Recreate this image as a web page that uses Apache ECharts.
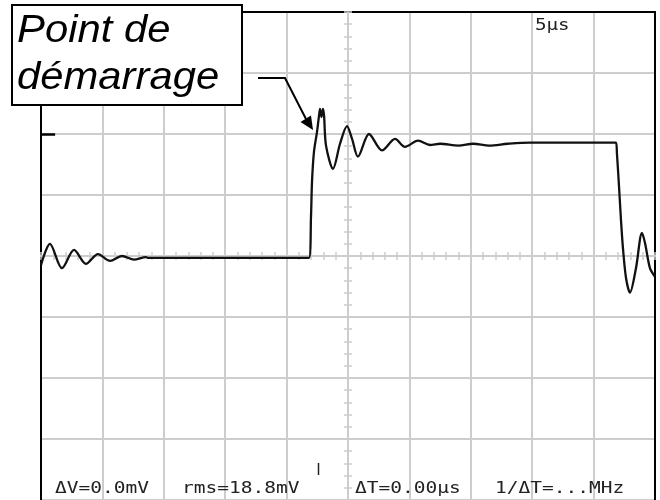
<!DOCTYPE html>
<html>
<head>
<meta charset="utf-8">
<script src="https://cdn.jsdelivr.net/npm/echarts@6/dist/echarts.min.js"></script>
<style>
  html, body { margin: 0; padding: 0; background: #fff; }
  #scope { width: 660px; height: 500px; }
</style>
</head>
<body>
<div id="scope"></div>
<script>
// trace: time in µs (0 = centre of screen, 5 µs/div), level in divisions
var timeUs = [-25, -24.27, -23.29, -22.31, -21.34, -20.36, -19.38, -18.40, -17.43, -16.45, -16.29,
    -3.18, -3.01, -2.93, -2.77, -2.52, -2.36, -2.28, -2.16, -2.04, -1.95, -1.79, -1.22, -0.65, -0.08,
    0.33, 0.81, 1.71, 2.77, 3.83, 4.64, 5.70, 6.68, 7.5, 9.0, 10.2, 11.5, 13.0, 14.8,
    21.82, 21.90, 22.07, 22.23, 22.39, 22.64, 22.96, 23.45, 23.94, 24.19, 24.59, 25];
var levelDiv = [-0.15, 0.20, -0.20, 0.10, -0.13, 0.03, -0.08, 0.0, -0.06, -0.02, -0.03,
    -0.03, 0.67, 1.22, 1.71, 2.04, 2.30, 2.41, 2.28, 2.41, 2.30, 1.81, 1.43, 1.84, 2.13,
    1.92, 1.63, 2.00, 1.73, 1.92, 1.79, 1.89, 1.82, 1.84, 1.81, 1.84, 1.81, 1.84, 1.86,
    1.86, 1.68, 1.14, 0.59, 0.13, -0.36, -0.60, -0.20, 0.38, 0.21, -0.20, -0.34];

var readouts = ['ΔV=0.0mV', 'rms=18.8mV', 'ΔT=0.00µs', '1/ΔT=...MHz'];
var readoutX = [55, 182, 355, 495];
var timebase = '5µs';
var calloutLines = ['Point de', 'démarrage'];

var trace = timeUs.map(function (t, i) { return [t, levelDiv[i]]; });

var gridGray = '#cdcdcd';
var scopeFont = '16px "DejaVu Sans Mono"';

function centreX(inside) {
    return {
        type: 'value', min: -25, max: 25, interval: 5, position: 'bottom',
        axisLine: { show: true, onZero: true, lineStyle: { color: gridGray, width: 2 } },
        axisTick: { show: true, inside: inside, length: 4, lineStyle: { color: gridGray, width: 1.5 } },
        minorTick: { show: true, splitNumber: 5, length: 4, lineStyle: { color: gridGray, width: 1.5 } },
        axisLabel: { show: false },
        splitLine: { show: !inside, lineStyle: { color: gridGray, width: 2 } }
    };
}
function centreY(inside) {
    return {
        type: 'value', min: -4, max: 4, interval: 1, position: 'left',
        axisLine: { show: true, onZero: true, lineStyle: { color: gridGray, width: 2 } },
        axisTick: { show: true, inside: inside, length: 4, lineStyle: { color: gridGray, width: 1.5 } },
        minorTick: { show: true, splitNumber: 5, length: 4, lineStyle: { color: gridGray, width: 1.5 } },
        axisLabel: { show: false },
        splitLine: { show: !inside, lineStyle: { color: gridGray, width: 2 } }
    };
}
function frameAxis(pos, min, max) {
    return {
        type: 'value', min: min, max: max, position: pos,
        axisLine: { show: true, onZero: false, lineStyle: { color: '#000', width: 2 } },
        axisTick: { show: false }, axisLabel: { show: false }, splitLine: { show: false }
    };
}

var graphics = [];
readouts.forEach(function (txt, i) {
    graphics.push({
        type: 'text', x: readoutX[i], y: 489, scaleX: 1.22, z: 100,
        style: { text: txt, font: scopeFont, fill: '#222', textAlign: 'left', textVerticalAlign: 'middle' }
    });
});
graphics.push({
    type: 'text', x: 535, y: 26, scaleX: 1.2, z: 100,
    style: { text: timebase, font: scopeFont, fill: '#222', textAlign: 'left', textVerticalAlign: 'middle' }
});
// cursor mark near the bottom
graphics.push({ type: 'line', z: 100, shape: { x1: 318.5, y1: 463, x2: 318.5, y2: 475 }, style: { stroke: '#222', lineWidth: 1.5 } });

// callout box and arrow
graphics.push({ type: 'rect', z: 100, shape: { x: 12, y: 5, width: 230, height: 100 }, style: { fill: '#fff', stroke: '#000', lineWidth: 2 } });
calloutLines.forEach(function (txt, i) {
    graphics.push({
        type: 'text', x: 17, y: 31 + i * 47, scaleX: 1.1, z: 101,
        style: { text: txt, font: 'italic 38px "Liberation Sans"', fill: '#000', textAlign: 'left', textVerticalAlign: 'middle' }
    });
});
graphics.push({ type: 'polyline', z: 100, shape: { points: [[258, 78], [285, 78], [306, 119]] }, style: { stroke: '#000', lineWidth: 2, fill: null } });
graphics.push({ type: 'polygon', z: 100, shape: { points: [[313, 130], [300.5, 122], [311, 115.5]] }, style: { fill: '#000' } });

var chart = echarts.init(document.getElementById('scope'));
chart.setOption({
    backgroundColor: '#fff',
    animation: false,
    grid: { left: 41, right: 5, top: 12, bottom: -4, show: false },
    xAxis: [centreX(false), centreX(true), frameAxis('top', -25, 25)],
    yAxis: [centreY(false), centreY(true), frameAxis('left', -4, 4), frameAxis('right', -4, 4)],
    series: [{
        // centre cross of the graticule
        type: 'line',
        data: [],
        z: 1,
        markLine: {
            silent: true,
            symbol: 'none',
            z: 1,
            label: { show: false },
            lineStyle: { color: gridGray, width: 2, type: 'solid' },
            data: [{ xAxis: 0 }, { yAxis: 0 }]
        }
    }, {
        type: 'line',
        data: trace,
        xAxisIndex: 0,
        yAxisIndex: 0,
        showSymbol: false,
        smooth: 0.3,
        lineStyle: { color: '#111', width: 2.3 },
        z: 10,
        markLine: {
            silent: true,
            symbol: 'none',
            label: { show: false },
            lineStyle: { color: '#000', width: 2.5, type: 'solid' },
            data: [[{ coord: [-25, 2] }, { coord: [-23.85, 2] }]]
        }
    }],
    graphic: graphics
});
</script>
</body>
</html>
